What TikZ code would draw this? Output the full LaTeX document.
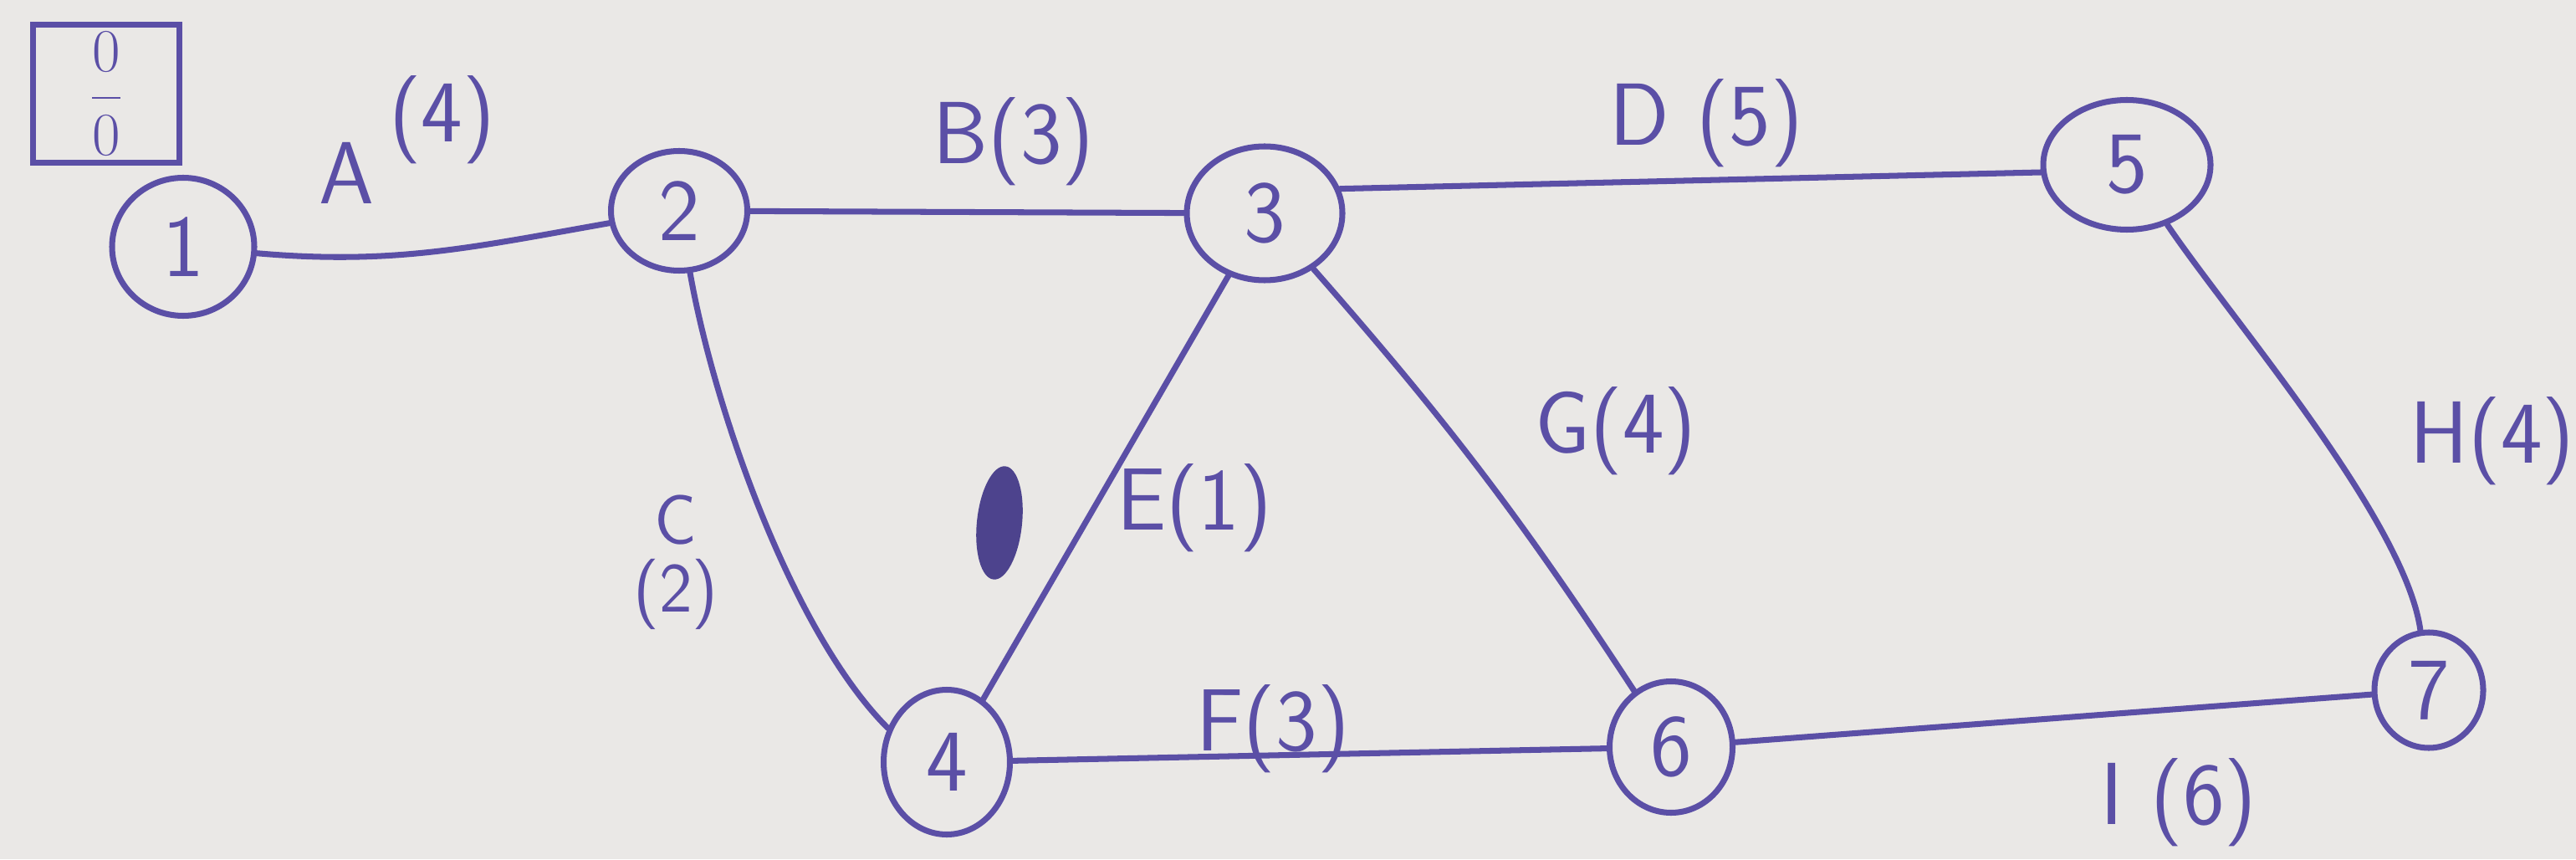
\documentclass[tikz,border=0pt]{standalone}
\usepackage{fontspec}
\usetikzlibrary{shapes.geometric}
\definecolor{cink}{HTML}{5B4FA6}
\definecolor{cpaper}{HTML}{EAE8E6}
\tikzset{
  every picture/.style={font=\sffamily, line width=2pt},
  event/.style={ellipse, draw=cink, inner sep=0pt, text=cink, font=\sffamily\fontsize{30}{34}\selectfont},
  act/.style={draw=cink, line width=2pt, line cap=round},
  lbl/.style={text=cink, inner sep=0pt, font=\sffamily\fontsize{30}{34}\selectfont},
  small lbl/.style={lbl, align=center, font=\sffamily\fontsize{24}{23}\selectfont},
}

\begin{document}
\begin{tikzpicture}
  \fill[cpaper] (0,0) rectangle (30.8,10.27);
  \useasboundingbox (0,0) rectangle (30.8,10.27);
  % events
  \node[event, minimum width=1.7cm, minimum height=1.65cm] (n1) at (2.19, 7.32) {1};
  \node[event, minimum width=1.63cm, minimum height=1.43cm] (n2) at (8.12, 7.75) {2};
  \node[event, minimum width=1.86cm, minimum height=1.6cm] (n3) at (15.12, 7.72) {3};
  \node[event, minimum width=1.51cm, minimum height=1.73cm] (n4) at (11.32, 1.16) {4};
  \node[event, minimum width=2.0cm, minimum height=1.55cm] (n5) at (25.43, 8.30) {5};
  \node[event, minimum width=1.47cm, minimum height=1.57cm] (n6) at (19.98, 1.34) {6};
  \node[event, minimum width=1.3cm, minimum height=1.38cm] (n7) at (29.04, 2.02) {7};
  \node[draw=cink, minimum width=1.75cm, minimum height=1.65cm, inner sep=0pt, text=cink,
    font=\fontsize{20}{24}\selectfont] (start) at (1.27, 9.15) {$\displaystyle\frac{0}{0}$};
  % activities
  \draw[act] (n1) to[out=-5, in=190] (n2);
  \draw[act] (n2) -- (n3);
  \draw[act] (n3.18) -- (n5.185);
  \draw[act] (n2) to[out=-80, in=135, looseness=0.7] (n4.150);
  \draw[act] (n4) -- (n3);
  \draw[act] (n3) to[bend left=4] (n6);
  \draw[act] (n5) to[out=-56, in=98, looseness=0.6] (n7);
  \draw[act] (n4) -- (n6);
  \draw[act] (n6) -- (n7);
  % durations
  \node[lbl] (lA) at (4.87, 8.60) {A\,\raisebox{0.7em}{(4)}};
  \node[lbl] (lB) at (12.12, 8.58) {B(3)};
  \node[lbl] (lD) at (20.40, 8.80) {D (5)};
  \node[small lbl] (lC) at (8.08, 3.55) {C\\(2)};
  \node[lbl] (lE) at (14.28, 4.20) {E(1)};
  \node[lbl] (lG) at (19.32, 5.12) {G(4)};
  \node[lbl] (lH) at (29.80, 5.00) {H(4)};
  \node[lbl] (lI) at (26.05, 0.68) {I (6)};
  \node[lbl] (lF) at (15.22, 1.56) {F(3)};
  % scribbled-out mark
  \fill[cink!85!black, rotate around={-6:(11.95,4.02)}] (11.95,4.02) ellipse (0.27cm and 0.68cm);
\end{tikzpicture}
\end{document}
